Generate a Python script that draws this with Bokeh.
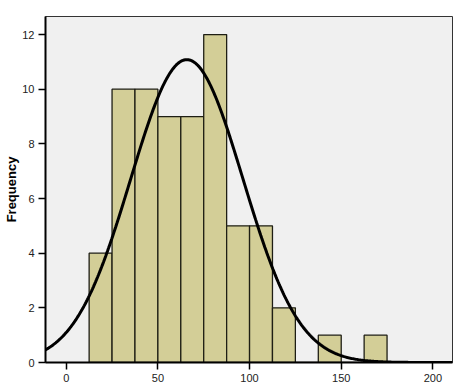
import numpy as np
from bokeh.plotting import figure
from bokeh.models import FixedTicker
from bokeh.embed import file_html
from bokeh.resources import INLINE

# Histogram data (bin edges and frequencies)
bin_left = [12.5, 25.0, 37.5, 50.0, 62.5, 75.0, 87.5, 100.0, 112.5, 125.0, 137.5, 150.0, 162.5]
bin_right = [25.0, 37.5, 50.0, 62.5, 75.0, 87.5, 100.0, 112.5, 125.0, 137.5, 150.0, 162.5, 175.0]
frequency = [4, 10, 10, 9, 9, 12, 5, 5, 2, 0, 1, 0, 1]

# Normal curve parameters
curve_mean = 65.8
curve_sd = 30.6
n_obs = sum(frequency)
bin_width = 12.5

x_ticks = [0, 50, 100, 150, 200]
y_ticks = [0, 2, 4, 6, 8, 10, 12]

p = figure(width=456, height=392, output_backend="svg", toolbar_location=None,
           x_range=(-11.3, 210.7), y_range=(0, 12.66),
           min_border_left=45, min_border_right=4, min_border_top=16, min_border_bottom=30)

p.background_fill_color = "#f0f0f0"
p.border_fill_color = "white"
p.outline_line_color = "#333333"
p.outline_line_width = 1
p.xgrid.visible = False
p.ygrid.visible = False

p.quad(left=bin_left, right=bin_right, bottom=0, top=frequency,
       fill_color="#d3ce97", line_color="#1e1e14", line_width=1.3)

# normal curve
xs = np.linspace(-11.3, 210.7, 400)
ys = n_obs * bin_width / (curve_sd * np.sqrt(2 * np.pi)) * np.exp(-0.5 * ((xs - curve_mean) / curve_sd) ** 2)
p.line(xs, ys, line_color="black", line_width=3)

for ax in (p.xaxis[0], p.yaxis[0]):
    ax.axis_line_color = "black"
    ax.axis_line_width = 2
    ax.major_tick_line_color = "black"
    ax.major_tick_line_width = 1.5
    ax.major_tick_out = 7
    ax.major_tick_in = 0
    ax.minor_tick_line_color = None
    ax.major_label_text_font = "Liberation Sans"
    ax.major_label_text_font_size = "11px"
    ax.major_label_text_color = "#222222"

p.xaxis.ticker = FixedTicker(ticks=x_ticks)
p.yaxis.ticker = FixedTicker(ticks=y_ticks)
p.xaxis.major_label_standoff = 4
p.yaxis.major_label_standoff = 4

p.yaxis.axis_label = "Frequency"
p.yaxis.axis_label_text_font = "Liberation Sans"
p.yaxis.axis_label_text_font_style = "bold"
p.yaxis.axis_label_text_font_size = "13px"
p.yaxis.axis_label_text_color = "black"
p.yaxis.axis_label_standoff = 0

open("out.html", "w").write(file_html(p, INLINE))
